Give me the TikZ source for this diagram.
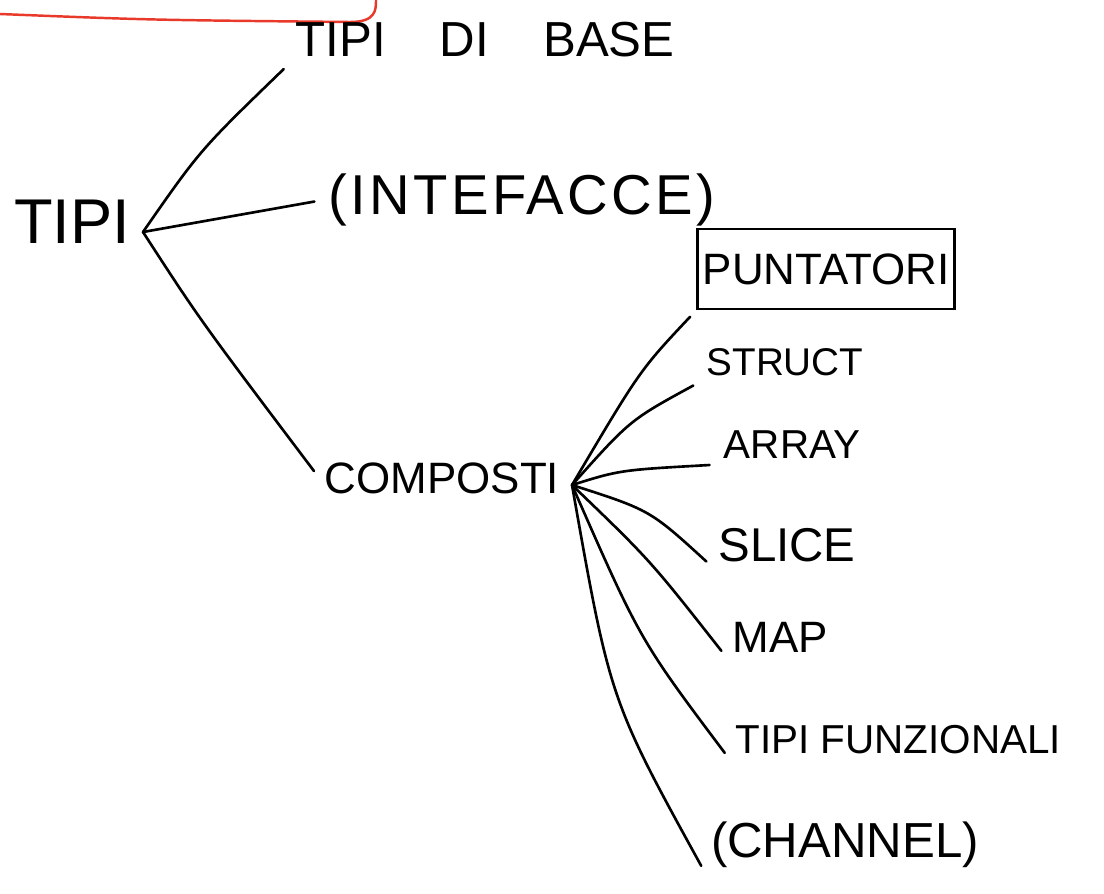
\documentclass[tikz,border=0pt]{standalone}
\usepackage{fontspec}
\setmainfont{Liberation Sans}
\usetikzlibrary{positioning}

\begin{document}
\begin{tikzpicture}[x=0.02cm,y=-0.02cm,
    lbl/.style={font=\fontsize{28}{34}\selectfont,inner sep=3pt},
    small/.style={font=\fontsize{23}{28}\selectfont,inner sep=3pt},
    branch/.style={line width=1.5pt,line cap=round,shorten >=5pt}]
  \useasboundingbox (0,0) rectangle (1104,893);
  % bordo rosso tagliato in alto
  \draw[line width=1.4pt,color={rgb,255:red,232;green,57;blue,42}]
    (0,14) .. controls (150,20) .. (350,22) .. controls (376,22) and (376,10) .. (376,0);
  % nodi
  \node[lbl,font=\fontsize{36}{40}\selectfont] (tipi) at (72,222) {TIPI};
  \node[lbl] (base) at (485,40) {TIPI\hspace{1.1em}DI\hspace{1.1em}BASE};
  \node[lbl,font=\fontsize{32}{38}\selectfont\addfontfeature{LetterSpace=6}] (interf) at (522,200) {(INTEFACCE)};
  \node[lbl,font=\fontsize{25}{30}\selectfont] (comp) at (442,478) {COMPOSTI};
  \node[lbl,font=\fontsize{25}{30}\selectfont,draw,line width=1.5pt,minimum width=4.9cm,minimum height=1.6cm] (punt) at (826,269) {PUNTATORI};
  \node[small,font=\fontsize{22}{26}\selectfont] (struct) at (785,362) {STRUCT};
  \node[small] (array) at (792,445) {ARRAY};
  \node[lbl,font=\fontsize{27}{32}\selectfont] (slice) at (787,545) {SLICE};
  \node[lbl,font=\fontsize{25}{30}\selectfont] (map) at (780,637) {MAP};
  \node[small,anchor=west] (funz) at (730,740) {TIPI FUNZIONALI};
  \node[lbl] (chan) at (845,845) {(CHANNEL)};
  \coordinate (root) at (143,232);
  \coordinate (hub) at (572,485);
  % rami
  \draw[branch] (root) .. controls (200,150) .. (base.south west);
  \draw[branch] (root) -- (interf.west);
  \draw[branch] (root) .. controls (200,320) .. (comp.west);
  \draw[branch] (hub) .. controls (640,370) .. (punt.south west);
  \draw[branch] (hub) .. controls (630,420) .. (struct.south west);
  \draw[branch] (hub) .. controls (620,470) .. (array.south west);
  \draw[branch] (hub) .. controls (650,510) .. (slice.south west);
  \draw[branch] (hub) .. controls (650,560) .. (map.south west);
  \draw[branch] (hub) .. controls (640,640) .. (funz.south west);
  \draw[branch] (hub) .. controls (610,700) .. (chan.south west);
\end{tikzpicture}
\end{document}
